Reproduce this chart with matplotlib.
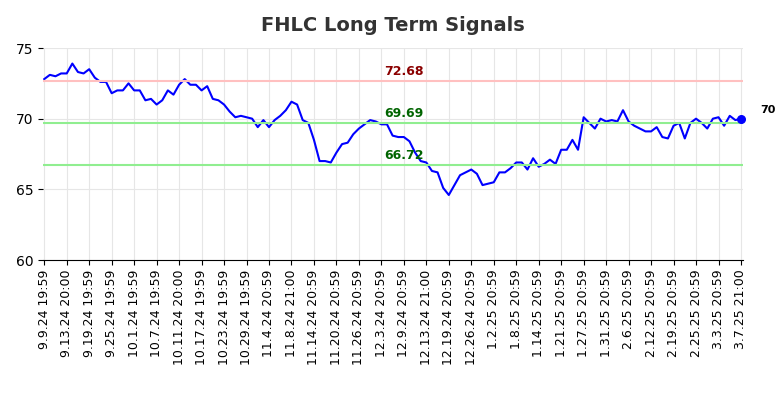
import matplotlib
matplotlib.use("Agg")
import matplotlib.pyplot as plt
import numpy as np

tick_labels = ["9.9.24 19:59", "9.13.24 20:00", "9.19.24 19:59", "9.25.24 19:59", "10.1.24 19:59",
               "10.7.24 19:59", "10.11.24 20:00", "10.17.24 19:59", "10.23.24 19:59", "10.29.24 19:59",
               "11.4.24 20:59", "11.8.24 21:00", "11.14.24 20:59", "11.20.24 20:59", "11.26.24 20:59",
               "12.3.24 20:59", "12.9.24 20:59", "12.13.24 21:00", "12.19.24 20:59", "12.26.24 20:59",
               "1.2.25 20:59", "1.8.25 20:59", "1.14.25 20:59", "1.21.25 20:59", "1.27.25 20:59",
               "1.31.25 20:59", "2.6.25 20:59", "2.12.25 20:59", "2.19.25 20:59", "2.25.25 20:59",
               "3.3.25 20:59", "3.7.25 21:00"]

prices = [72.8, 73.1, 73.0, 73.2, 73.2, 73.9, 73.3, 73.2, 73.5, 72.9,
          72.6, 72.6, 71.8, 72.0, 72.0, 72.5, 72.0, 72.0, 71.3, 71.4,
          71.0, 71.3, 72.0, 71.7, 72.4, 72.8, 72.4, 72.4, 72.0, 72.3,
          71.4, 71.3, 71.0, 70.5, 70.1, 70.2, 70.1, 70.0, 69.4, 69.9,
          69.4, 69.9, 70.2, 70.6, 71.2, 71.0, 69.9, 69.7, 68.5, 67.0,
          67.0, 66.9, 67.6, 68.2, 68.3, 68.9, 69.3, 69.6, 69.9, 69.8,
          69.6, 69.6, 68.8, 68.7, 68.7, 68.4, 67.6, 67.0, 66.9, 66.3,
          66.2, 65.1, 64.6, 65.3, 66.0, 66.2, 66.4, 66.1, 65.3, 65.4,
          65.5, 66.2, 66.2, 66.5, 66.9, 66.9, 66.4, 67.2, 66.6, 66.8,
          67.1, 66.8, 67.8, 67.8, 68.5, 67.8, 70.1, 69.7, 69.3, 70.0,
          69.8, 69.9, 69.8, 70.6, 69.8, 69.5, 69.3, 69.1, 69.1, 69.4,
          68.7, 68.6, 69.5, 69.7, 68.6, 69.7, 70.0, 69.7, 69.3, 70.0,
          70.1, 69.5, 70.2, 69.9, 70.0]

resistance = 72.68
middle = 69.69
support = 66.72

fig, ax = plt.subplots(figsize=(7.84, 4.0), dpi=100)
fig.subplots_adjust(left=0.055, right=0.948, top=0.88, bottom=0.35)

x = np.arange(len(prices))
ax.plot(x, prices, color="blue", lw=1.5)
ax.scatter([x[-1]], [prices[-1]], color="blue", s=30, zorder=3, clip_on=False)

ax.axhline(resistance, color="#ffc0c0", lw=1.5)
ax.axhline(middle, color="#90ee90", lw=1.5)
ax.axhline(support, color="#90ee90", lw=1.5)
lx = 64
ax.text(lx, resistance + 0.2, f"{resistance:.2f}", color="darkred", fontsize=9, fontweight="bold", ha="center", va="bottom")
ax.text(lx, middle + 0.2, f"{middle:.2f}", color="darkgreen", fontsize=9, fontweight="bold", ha="center", va="bottom")
ax.text(lx, support + 0.2, f"{support:.2f}", color="darkgreen", fontsize=9, fontweight="bold", ha="center", va="bottom")
ax.text(x[-1] + 3.5, prices[-1] + 0.6, f"{prices[-1]:.0f}", fontsize=8, fontweight="bold", va="center")

ax.set_ylim(60, 75)
ax.set_yticks([60, 65, 70, 75])
ax.set_xlim(-0.2, len(prices) - 0.6)
ax.set_xticks(x[::4])
ax.set_xticklabels(tick_labels, rotation=90, fontsize=9)
ax.tick_params(axis="y", labelsize=10)
ax.grid(color="#e6e6e6", lw=0.8)
for s in ["top", "right", "left"]:
    ax.spines[s].set_visible(False)
ax.set_title("FHLC Long Term Signals", fontsize=14, fontweight="bold", color="#333333", pad=12)

fig.savefig("out.png")
